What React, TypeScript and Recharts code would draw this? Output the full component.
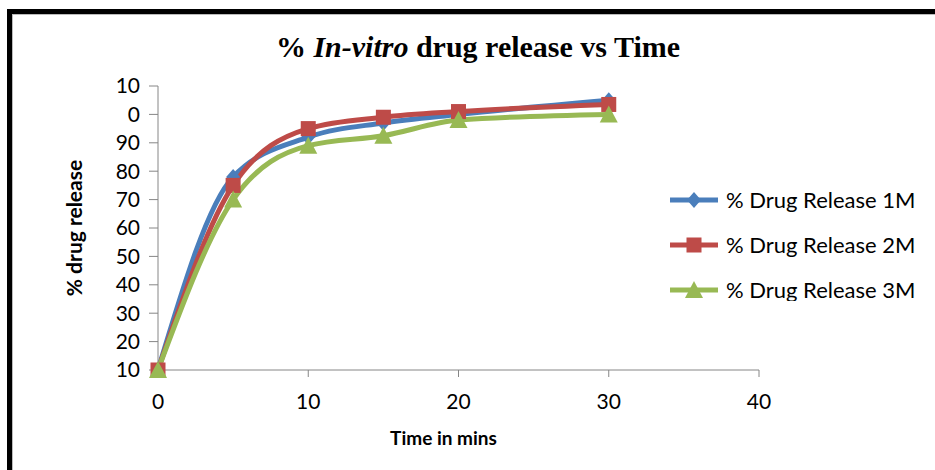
import React from 'react';
import { LineChart, Line, XAxis, YAxis } from 'recharts';

// sampling times (min) and cumulative release for each batch
const times = [0, 5, 10, 15, 20, 30];
const release1M = [10, 78, 92, 97, 100, 105];
const release2M = [10, 75, 95, 99, 101, 103.5];
const release3M = [10, 70, 89, 92.5, 98, 100];

const xTicks = [0, 10, 20, 30, 40];
const yTicks = [10, 20, 30, 40, 50, 60, 70, 80, 90, 100, 110];
const yTickLabels = ['10', '20', '30', '40', '50', '60', '70', '80', '90', '0', '10'];

const seriesNames = ['% Drug Release 1M', '% Drug Release 2M', '% Drug Release 3M'];
const seriesColors = ['#4a7ebb', '#be4b48', '#98b954'];
const seriesShapes = ['diamond', 'square', 'triangle'];

const data = times.map((t, i) => ({
  time: t,
  r1: release1M[i],
  r2: release2M[i],
  r3: release3M[i],
}));

const AXIS = '#868686';
const FONT = 'Lato, "Liberation Sans", sans-serif';

const Marker = ({ cx, cy, shape, color }: { cx: number; cy: number; shape: string; color: string }) => {
  if (cx == null || cy == null) return null;
  if (shape === 'diamond') {
    return <polygon points={`${cx},${cy - 8} ${cx + 7},${cy} ${cx},${cy + 8} ${cx - 7},${cy}`} fill={color} />;
  }
  if (shape === 'square') {
    return <rect x={cx - 7.5} y={cy - 7.5} width={15} height={15} fill={color} />;
  }
  return <polygon points={`${cx},${cy - 9} ${cx + 9},${cy + 8} ${cx - 9},${cy + 8}`} fill={color} />;
};

const dotFor = (i: number) => (props: any) => (
  <Marker key={`${i}-${props.index}`} cx={props.cx} cy={props.cy} shape={seriesShapes[i]} color={seriesColors[i]} />
);

// legend sits to the right of the plot; its box trims the descenders of the last row
const LegendBox = () => (
  <div
    style={{
      position: 'absolute',
      left: 668,
      top: 177,
      width: 267,
      height: 124,
      overflow: 'hidden',
      fontFamily: FONT,
      fontSize: 22,
      color: '#000',
    }}
  >
    {seriesNames.map((name, i) => (
      <div key={name} style={{ height: 45, display: 'flex', alignItems: 'center' }}>
        <svg width={52} height={24} style={{ marginRight: 6 }}>
          <line x1={2} y1={12} x2={50} y2={12} stroke={seriesColors[i]} strokeWidth={5} />
          <Marker cx={26} cy={12} shape={seriesShapes[i]} color={seriesColors[i]} />
        </svg>
        <span>{name}</span>
      </div>
    ))}
  </div>
);

export default function App() {
  return (
    <div style={{ position: 'absolute', left: 0, top: 0, width: 935, height: 470, overflow: 'hidden', background: '#fff' }}>
      <div
        style={{
          position: 'absolute',
          left: 7,
          top: 9,
          width: 1000,
          height: 600,
          borderTop: '5px solid #000',
          borderLeft: '5px solid #000',
          boxShadow: 'inset 1px 1px 0 #bbb',
        }}
      />
      <div
        style={{
          position: 'absolute',
          left: 0,
          top: 30,
          width: 956,
          textAlign: 'center',
          fontFamily: '"Liberation Serif", serif',
          fontWeight: 'bold',
          fontSize: 30,
          color: '#000',
        }}
      >
        % <i>In-vitro</i> drug release vs Time
      </div>
      <div style={{ position: 'absolute', left: 0, top: 0 }}>
        <LineChart width={935} height={470} data={data} margin={{ top: 86, right: 176, bottom: 0, left: 0 }}>
          <XAxis
            dataKey="time"
            type="number"
            domain={[0, 40]}
            ticks={xTicks}
            height={100}
            stroke={AXIS}
            tickSize={7}
            tickMargin={17}
            tick={{ fill: '#000', fontSize: 21, fontFamily: FONT }}
            label={{ value: 'Time in mins', position: 'center', dx: -15, dy: 18, fill: '#000', fontSize: 19, fontWeight: 'bold', fontFamily: FONT }}
          />
          <YAxis
            type="number"
            domain={[10, 110]}
            ticks={yTicks}
            width={158}
            stroke={AXIS}
            tickSize={9}
            tickMargin={9}
            interval={0}
            tickFormatter={(v: number) => yTickLabels[yTicks.indexOf(v)]}
            tick={{ fill: '#000', fontSize: 21, fontFamily: FONT }}
            label={{ value: '% drug release', angle: -90, position: 'center', dx: -4, fill: '#000', fontSize: 21, fontWeight: 'bold', fontFamily: FONT }}
          />
          <Line type="monotone" dataKey="r1" name={seriesNames[0]} stroke={seriesColors[0]} strokeWidth={5} dot={dotFor(0)} activeDot={false} isAnimationActive={false} />
          <Line type="monotone" dataKey="r2" name={seriesNames[1]} stroke={seriesColors[1]} strokeWidth={5} dot={dotFor(1)} activeDot={false} isAnimationActive={false} />
          <Line type="monotone" dataKey="r3" name={seriesNames[2]} stroke={seriesColors[2]} strokeWidth={5} dot={dotFor(2)} activeDot={false} isAnimationActive={false} />
        </LineChart>
      </div>
      <LegendBox />
    </div>
  );
}
